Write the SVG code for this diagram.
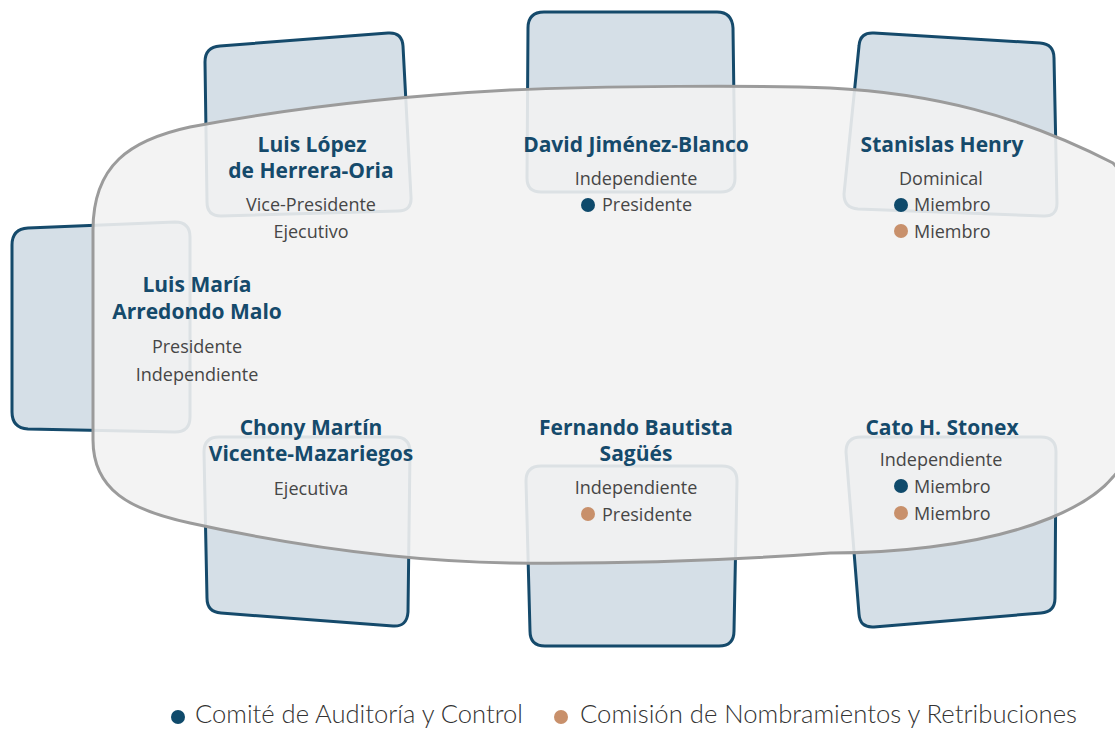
<svg xmlns="http://www.w3.org/2000/svg" width="1115" height="729" viewBox="0 0 1115 729">
<style>
.chair{fill:#d5dfe7;stroke:#154a6b;stroke-width:3;stroke-linejoin:round}
.table{fill:#f2f2f2;fill-opacity:0.9;stroke:#9b9b9b;stroke-width:3}
.name{font-family:"Open Sans",Lato,sans-serif;font-weight:700;font-size:21px;fill:#154a6b;text-anchor:middle}
.role{font-family:"Open Sans",Lato,sans-serif;font-size:18px;fill:#464646;text-anchor:middle}
.item{font-family:"Open Sans",Lato,sans-serif;font-size:18px;fill:#464646}
.leg{font-family:Lato,"Open Sans",sans-serif;font-weight:300;font-size:25px;fill:#333}
.acc{fill:#0f4a6b}
.cnr{fill:#c8906b}
</style>
<rect width="1115" height="729" fill="#ffffff"/>
<g id="chairs">
<path id="chair-lopez" class="chair" d="M205,62 Q205,47 220,46 L388,33 Q402,32 403,46 L411,197 Q412,211 398,211 L221,216 Q207,216 207,202 Z"/>
<path id="chair-jimenez" class="chair" d="M528,28 Q528,12 544,12 L717,12 Q732,12 733,28 L735,178 Q735,192 721,192 L541,192 Q527,192 527,178 Z"/>
<path id="chair-henry" class="chair" d="M859,46 Q860,32 874,33 L1040,43 Q1054,44 1054,58 L1057,203 Q1057,217 1043,216 L858,209 Q844,208 844,194 Z"/>
<path id="chair-arredondo" class="chair" d="M12,245 Q12,229 28,228 L175,222 Q190,222 190,237 L190,417 Q190,432 175,432 L28,429 Q12,428 12,412 Z"/>
<path id="chair-martin" class="chair" d="M204,452 Q204,437 219,437 L395,437 Q410,437 410,452 L408,612 Q407,627 393,626 L221,613 Q207,612 207,598 Z"/>
<path id="chair-bautista" class="chair" d="M526,481 Q526,466 541,466 L722,466 Q737,466 737,481 L734,631 Q734,646 719,646 L545,646 Q530,646 530,631 Z"/>
<path id="chair-stonex" class="chair" d="M846,452 Q846,437 861,437 L1041,437 Q1056,437 1056,452 L1055,598 Q1055,612 1041,613 L874,627 Q860,628 859,614 Z"/>
</g>
<path id="table" class="table" d="M93,230 C93,165 130,140 190,127 C280,110 380,97 510,90 C600,86 760,85 830,88 C930,93 1020,115 1113,163 C1135,185 1140,250 1140,320 C1140,400 1135,455 1113,477 C1090,505 1030,535 930,547 C890,552 860,553 830,553 C720,561 600,564 510,563 C400,561 290,545 190,523 C130,510 93,490 93,440 Z"/>
<g id="node-lopez">
<text class="name" x="312" y="152">Luis López</text>
<text class="name" x="311" y="178">de Herrera-Oria</text>
<text class="role" x="311" y="211">Vice-Presidente</text>
<text class="role" x="311" y="238">Ejecutivo</text>
</g>
<g id="node-jimenez">
<text class="name" x="636" y="152">David Jiménez-Blanco</text>
<text class="role" x="636" y="185">Independiente</text>
<circle class="acc" cx="588" cy="205" r="7"/>
<text class="item" x="602" y="211">Presidente</text>
</g>
<g id="node-henry">
<text class="name" x="942" y="152">Stanislas Henry</text>
<text class="role" x="941" y="185">Dominical</text>
<circle class="acc" cx="901" cy="205" r="7"/>
<text class="item" x="914" y="211">Miembro</text>
<circle class="cnr" cx="901" cy="231" r="7"/>
<text class="item" x="914" y="238">Miembro</text>
</g>
<g id="node-arredondo">
<text class="name" x="197" y="292">Luis María</text>
<text class="name" x="197" y="319">Arredondo Malo</text>
<text class="role" x="197" y="353">Presidente</text>
<text class="role" x="197" y="381">Independiente</text>
</g>
<g id="node-martin">
<text class="name" x="311" y="435">Chony Martín</text>
<text class="name" x="311" y="461">Vicente-Mazariegos</text>
<text class="role" x="311" y="495">Ejecutiva</text>
</g>
<g id="node-bautista">
<text class="name" x="636" y="435">Fernando Bautista</text>
<text class="name" x="636" y="461">Sagüés</text>
<text class="role" x="636" y="494">Independiente</text>
<circle class="cnr" cx="588" cy="514" r="7"/>
<text class="item" x="602" y="521">Presidente</text>
</g>
<g id="node-stonex">
<text class="name" x="942" y="435">Cato H. Stonex</text>
<text class="role" x="941" y="466">Independiente</text>
<circle class="acc" cx="901" cy="486" r="7"/>
<text class="item" x="914" y="493">Miembro</text>
<circle class="cnr" cx="901" cy="513" r="7"/>
<text class="item" x="914" y="520">Miembro</text>
</g>
<g id="legend">
<circle class="acc" cx="178" cy="717" r="7"/>
<text class="leg" x="195" y="723" textLength="328" lengthAdjust="spacingAndGlyphs">Comité de Auditoría y Control</text>
<circle class="cnr" cx="561" cy="717" r="7"/>
<text class="leg" x="580" y="723" textLength="497" lengthAdjust="spacingAndGlyphs">Comisión de Nombramientos y Retribuciones</text>
</g>
</svg>
